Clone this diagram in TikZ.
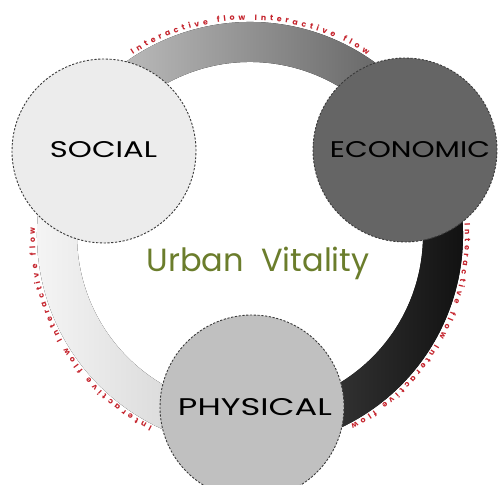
\documentclass[tikz,border=0pt]{standalone}
\usepackage{fontspec}
\usetikzlibrary{decorations.text,calc}
\newfontfamily\labfont{Poppins}
\newfontfamily\arcfontfam{Poppins}
\definecolor{arcred}{HTML}{C4222B}
\definecolor{vitgreen}{HTML}{6B7D2C}
\definecolor{socfill}{HTML}{ECECEC}
\definecolor{ecofill}{HTML}{656565}
\definecolor{phyfill}{HTML}{C0C0C0}
\definecolor{rimline}{HTML}{3A3A3A}
\tikzset{
  pillar/.style={circle, minimum size=184pt, inner sep=0pt, draw=rimline,
    line width=0.9pt, dash pattern=on 2.2pt off 1.6pt},
  arctext/.style={decorate, decoration={text along path, text color=arcred,
    text align={fit to path}}}
}
\newcommand{\arcfnt}{\arcfontfam\bfseries\fontsize{7.8}{8}\selectfont}
\begin{document}
\begin{tikzpicture}[x=1pt,y=1pt]
\useasboundingbox (0,0) rectangle (500,484);
\coordinate (c) at (250,249);
% ring segments
\fill[left color=white!80!black, right color=black!66]
  ($(c)+(150:213pt)$) arc[start angle=150,end angle=30,radius=213pt]
  -- ($(c)+(30:173pt)$) arc[start angle=30,end angle=150,radius=173pt] -- cycle;
\fill[left color=black!72, right color=black!96]
  ($(c)+(30:213pt)$) arc[start angle=30,end angle=-90,radius=213pt]
  -- ($(c)+(-90:173pt)$) arc[start angle=-90,end angle=30,radius=173pt] -- cycle;
\fill[left color=white!98!black, right color=white!80!black]
  ($(c)+(150:213pt)$) arc[start angle=150,end angle=270,radius=213pt]
  -- ($(c)+(270:173pt)$) arc[start angle=270,end angle=150,radius=173pt] -- cycle;
% red arc texts
\path[arctext, decoration={text={|\arcfnt|Interactive flow Interactive flow}, raise=1pt}]
  ($(c)+(123:214pt)$) arc[start angle=123,end angle=57,radius=214pt];
\path[arctext, decoration={text={|\arcfnt|Interactive flow Interactive flow}, raise=1pt}]
  ($(c)+(3:214pt)$) arc[start angle=3,end angle=-62,radius=214pt];
\path[arctext, decoration={text={|\arcfnt|Interactive flow Interactive flow}, raise=1pt}]
  ($(c)+(243:214pt)$) arc[start angle=243,end angle=178,radius=214pt];
% pillars
\node[pillar, fill=socfill] (soc) at (104,333) {};
\node[pillar, fill=ecofill] (eco) at (405,334) {};
\node[pillar, fill=phyfill] (phy) at (252,77) {};
\node (socl) at (103.5,334) {\resizebox{107pt}{16pt}{\labfont SOCIAL}};
\node (ecol) at (410,334) {\resizebox{160pt}{16pt}{\labfont ECONOMIC}};
\node (phyl) at (255,77) {\resizebox{154pt}{17pt}{\labfont PHYSICAL}};
\node[text=vitgreen] (uv) at (258,221) {\resizebox{223pt}{!}{\labfont Urban\ \ Vitality}};
\end{tikzpicture}
\end{document}
